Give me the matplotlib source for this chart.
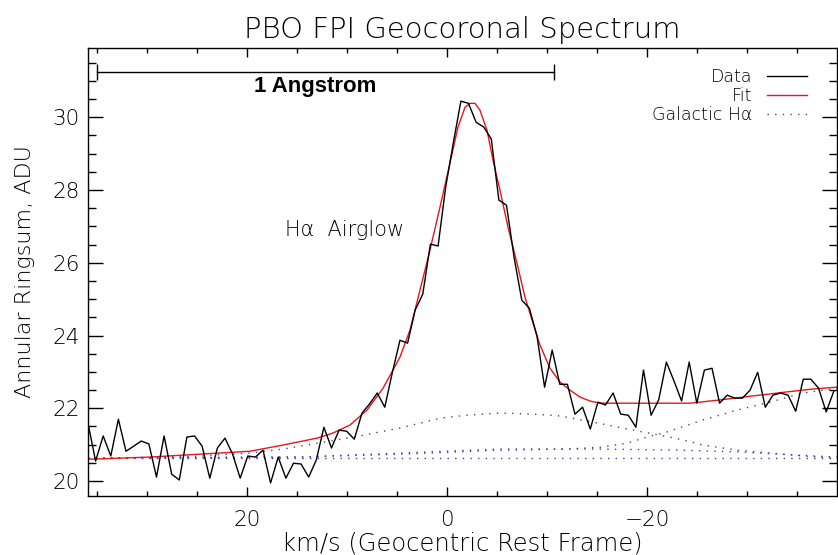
import matplotlib
matplotlib.use('Agg')
import matplotlib.pyplot as plt
from matplotlib.ticker import MultipleLocator

# velocity channels (km/s, geocentric) and ringsum counts
velocity = [35.90, 35.14, 34.38, 33.62, 32.86, 32.10, 31.33, 30.57, 29.81, 29.05,
            28.29, 27.53, 26.77, 26.01, 25.25, 24.49, 23.72, 22.96, 22.20, 21.44,
            20.68, 19.92, 19.16, 18.40, 17.64, 16.88, 16.11, 15.35, 14.59, 13.83,
            13.07, 12.31, 11.55, 10.79, 10.03, 9.27, 8.50, 7.74, 6.98, 6.22,
            5.46, 4.70, 3.94, 3.18, 2.42, 1.66, 0.89, 0.13, -0.63, -1.39,
            -2.15, -2.91, -3.67, -4.43, -5.19, -5.95, -6.72, -7.48, -8.24, -9.00,
            -9.76, -10.52, -11.28, -12.04, -12.80, -13.56, -14.33, -15.09, -15.85, -16.61,
            -17.37, -18.13, -18.89, -19.65, -20.41, -21.17, -21.94, -22.70, -23.46, -24.22,
            -24.98, -25.74, -26.50, -27.26, -28.02, -28.78, -29.55, -30.31, -31.07, -31.83,
            -32.59, -33.35, -34.11, -34.87, -35.63, -36.39, -37.16, -37.92, -38.68]
data_adu = [21.59, 20.55, 21.24, 20.69, 21.70, 20.82, 20.96, 21.10, 21.02, 20.11,
            21.24, 20.19, 20.03, 21.21, 21.24, 20.96, 20.08, 20.91, 21.18, 20.74,
            20.08, 20.69, 20.66, 20.85, 19.95, 20.66, 20.08, 20.49, 20.47, 20.11,
            20.58, 21.48, 20.91, 21.40, 21.37, 21.15, 21.87, 22.12, 22.42, 22.03,
            22.99, 23.87, 23.79, 24.70, 25.14, 26.51, 26.46, 28.08, 29.29, 30.44,
            30.38, 29.86, 29.73, 29.40, 27.72, 27.58, 26.13, 24.97, 24.75, 23.98,
            22.58, 23.60, 22.66, 22.66, 21.84, 22.03, 21.43, 22.17, 22.09, 22.42,
            21.84, 21.81, 21.48, 23.05, 21.81, 22.23, 23.27, 22.75, 22.20, 23.27,
            22.14, 23.05, 23.10, 22.14, 22.36, 22.28, 22.28, 22.50, 22.99, 22.03,
            22.36, 22.42, 22.36, 21.92, 22.80, 22.80, 22.55, 21.90, 22.47]

# total fit
fit_vel = [35.9, 29.7, 24.7, 19.7, 16.4, 13.0, 11.4, 9.7, 8.0, 6.4, 5.4, 4.7, 3.7,
           2.7, 1.7, 0.7, -0.3, -1.1, -1.8, -2.3, -2.8, -3.3, -4.0, -4.6, -5.3,
           -6.1, -7.0, -7.8, -8.6, -9.3, -10.3, -11.3, -12.3, -13.3, -14.3, -15.3,
           -20.3, -24.3, -27.3, -30.6, -34.0, -36.6, -39.0]
fit_adu = [20.60, 20.66, 20.74, 20.82, 20.99, 21.18, 21.32, 21.54, 21.95, 22.55, 23.05,
           23.41, 24.15, 25.25, 26.35, 27.53, 28.74, 29.73, 30.27, 30.38, 30.38, 30.19,
           29.64, 28.82, 27.99, 26.98, 25.99, 25.05, 24.34, 23.74, 23.10, 22.72, 22.50,
           22.31, 22.20, 22.14, 22.14, 22.14, 22.23, 22.34, 22.45, 22.53, 22.58]

# galactic H-alpha components
gal1_vel = [35.9, 29.7, 24.7, 19.7, 16.4, 14.7, 11.7, 8.7, 4.7, 2.7, 0.7, -2.0,
            -5.3, -8.6, -11.3, -14.6, -18.6, -21.3, -23.3, -25.6, -29.0, -32.3, -35.6, -39.0]
gal1_adu = [20.63, 20.65, 20.69, 20.77, 20.88, 20.96, 21.10, 21.24, 21.46, 21.59, 21.73, 21.81,
            21.87, 21.84, 21.79, 21.62, 21.40, 21.26, 21.15, 20.99, 20.85, 20.77, 20.69, 20.63]
gal2_vel = [35.9, 14.7, 4.7, -5.3, -12.0, -15.3, -18.0, -20.0, -22.0, -25.6, -29.0, -32.3, -35.6, -39.0]
gal2_adu = [20.63, 20.66, 20.74, 20.85, 20.88, 20.93, 21.04, 21.21, 21.35, 21.68, 21.95, 22.17, 22.42, 22.55]
gal3_vel = [35.9, 14.7, 4.7, -5.3, -15.3, -23.3, -29.3, -35.3, -39.0]
gal3_adu = [20.63, 20.66, 20.77, 20.88, 20.88, 20.85, 20.80, 20.71, 20.66]
gal4_vel = [35.9, -39.0]
gal4_adu = [20.63, 20.63]

angstrom_span = (35.0, -10.7)
angstrom_level = 31.24

plt.rcParams['font.family'] = ['DejaVu Sans']
plt.rcParams['font.weight'] = 'light'
plt.rcParams['axes.titleweight'] = 'light'
plt.rcParams['axes.labelweight'] = 'light'

fig = plt.figure(figsize=(8.38, 5.55), dpi=100)
ax = fig.add_axes([0.105, 0.1063, 0.8938, 0.8072])

gal_color = '#3f3fa8'
dots = (0, (1, 4.5))
ax.plot(gal4_vel, gal4_adu, color=gal_color, lw=1, ls=dots)
ax.plot(gal3_vel, gal3_adu, color=gal_color, lw=1, ls=dots)
ax.plot(gal2_vel, gal2_adu, color=gal_color, lw=1, ls=dots)
ax.plot(gal1_vel, gal1_adu, color=gal_color, lw=1, ls=dots, label='Galactic Hα')
ax.plot(fit_vel, fit_adu, color='#e8161b', lw=1.0, label='Fit')
ax.plot(velocity, data_adu, color='black', lw=1.0, label='Data')

# 1 Angstrom scale bar
ax.plot(angstrom_span, [angstrom_level, angstrom_level], color='black', lw=1)
ax.vlines(angstrom_span, angstrom_level - 0.23, angstrom_level + 0.23, color='black', lw=1)
ax.text(13.2, 30.85, '1 Angstrom', ha='center', va='center',
        fontsize=16, fontweight='bold', family='Liberation Sans')

ax.text(16.2, 26.9, 'Hα  Airglow', ha='left', va='center', fontsize=15)

ax.set_xlim(35.9, -39.0)
ax.set_ylim(19.59, 31.9)

ax.xaxis.set_major_locator(MultipleLocator(20))
ax.xaxis.set_minor_locator(MultipleLocator(5))
ax.yaxis.set_major_locator(MultipleLocator(2))
ax.yaxis.set_minor_locator(MultipleLocator(0.5))
ax.tick_params(direction='in', top=True, right=True, which='both', width=1)
ax.tick_params(axis='x', which='major', length=6.5, pad=10, labelsize=15.5)
ax.tick_params(axis='x', which='minor', length=3.6)
ax.tick_params(axis='y', which='major', length=10.5, pad=6, labelsize=15.5)
ax.tick_params(axis='y', which='minor', length=5.5)
for s in ax.spines.values():
    s.set_linewidth(1)

ax.set_title('PBO FPI Geocoronal Spectrum', fontsize=21, pad=7)
ax.set_xlabel('km/s (Geocentric Rest Frame)', fontsize=17.5, labelpad=1)
ax.set_ylabel('Annular Ringsum, ADU', fontsize=16, labelpad=12)

handles, labels = ax.get_legend_handles_labels()
order = [2, 1, 0]
ax.legend([handles[i] for i in order], [labels[i] for i in order],
          loc='upper right', bbox_to_anchor=(0.96, 0.955), frameon=False,
          markerfirst=False, fontsize=12.5, handlelength=2.3, handletextpad=0.85,
          labelspacing=0.05, borderpad=0, borderaxespad=0)

fig.savefig('out.png', dpi=100)
